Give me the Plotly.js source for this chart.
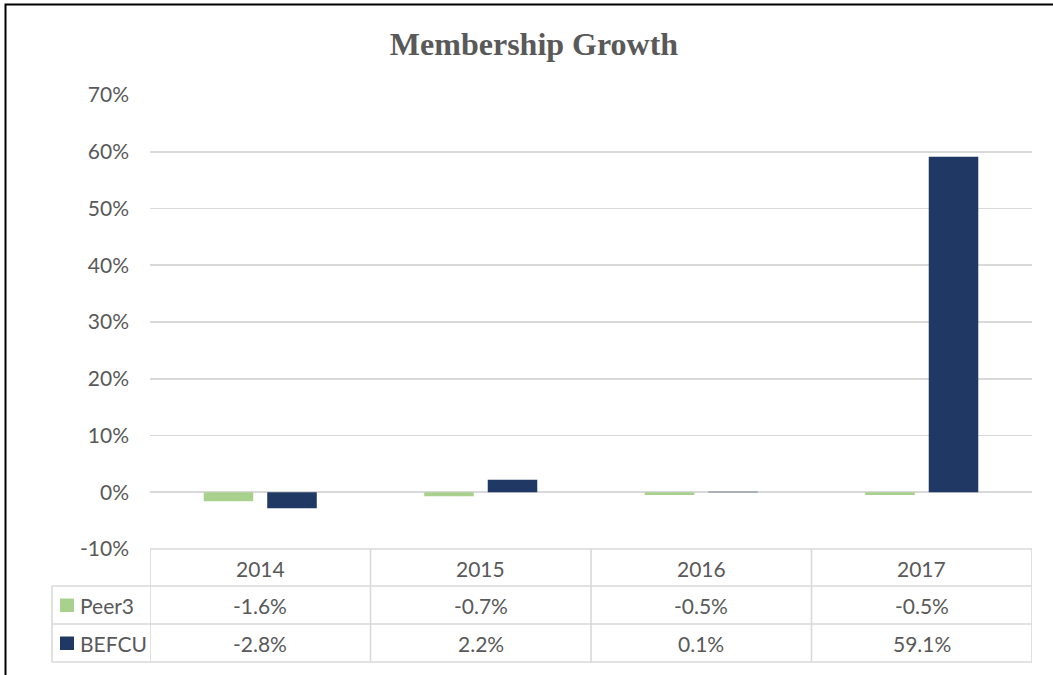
<!DOCTYPE html>
<html>
<head>
<meta charset="utf-8">
<script src="https://cdn.plot.ly/plotly-3.0.1.min.js"></script>
<style>
  html, body { margin: 0; padding: 0; background: #ffffff; }
  #chart { width: 1053px; height: 675px; }
</style>
</head>
<body>
<div id="chart"></div>
<script>
// ---- data ----
const years = ['2014', '2015', '2016', '2017'];
const seriesNames = ['Peer3', 'BEFCU'];
const peer3 = [-1.6, -0.7, -0.5, -0.5];
const befcu = [-2.8, 2.2, 0.1, 59.1];
const yTickVals = [-10, 0, 10, 20, 30, 40, 50, 60, 70];
const yTickText = ['-10%', '0%', '10%', '20%', '30%', '40%', '50%', '60%', '70%'];
const colors = ['#A9D18E', '#1F3864'];

// ---- style / geometry (pixels of the 1053x675 page) ----
const W = 1053, H = 675;
const plotL = 150, plotR = 1032, plotT = 95, plotB = 549;
const pw = plotR - plotL, ph = plotB - plotT;
const px2x = p => (p - plotL) / pw;          // pixel x -> paper x
const px2y = p => (plotB - p) / ph;          // pixel y -> paper y
const textColor = '#595959';
const gridColor = '#D9D9D9';
const baseFont = 'Lato, "Open Sans", sans-serif';

const rowLines = [586, 624, 662];
const rowCenters = [568, 605, 643];
const labelLeft = 52;

const traces = [peer3, befcu].map((vals, i) => ({
  type: 'bar',
  name: seriesNames[i],
  x: years,
  y: vals,
  marker: { color: colors[i], line: { width: 0 } },
  hoverinfo: 'skip'
}));

const shapes = [];
const annotations = [];
const tableLine = { color: gridColor, width: 1.6 };

// header top line
shapes.push({ type: 'line', xref: 'paper', yref: 'paper', x0: 0, x1: 1, y0: 0, y1: 0, line: tableLine });
// row lines
rowLines.forEach(p => shapes.push({ type: 'line', xref: 'paper', yref: 'paper',
  x0: px2x(labelLeft), x1: 1, y0: px2y(p), y1: px2y(p), line: tableLine }));
// column lines
for (let i = 0; i <= years.length; i++) {
  shapes.push({ type: 'line', xref: 'x', yref: 'paper', x0: i - 0.5, x1: i - 0.5,
    y0: 0, y1: px2y(rowLines[2]), line: tableLine });
}
// label column left line
shapes.push({ type: 'line', xref: 'paper', yref: 'paper', x0: px2x(labelLeft), x1: px2x(labelLeft),
  y0: px2y(rowLines[0]), y1: px2y(rowLines[2]), line: tableLine });

const cellFont = { family: baseFont, size: 21, color: textColor };

// header labels (category index on the x axis)
years.forEach((yr, i) => annotations.push({ xref: 'x', yref: 'paper', x: i, y: px2y(rowCenters[0]),
  text: yr, showarrow: false, xanchor: 'center', yanchor: 'middle', font: cellFont }));

// series rows
[peer3, befcu].forEach((vals, r) => {
  const cy = rowCenters[r + 1];
  // legend swatch
  shapes.push({ type: 'rect', xref: 'paper', yref: 'paper',
    x0: px2x(60), x1: px2x(74), y0: px2y(cy - 6.5), y1: px2y(cy + 7),
    fillcolor: colors[r], line: { width: 0 } });
  annotations.push({ xref: 'paper', yref: 'paper', x: px2x(78), y: px2y(cy),
    text: seriesNames[r], showarrow: false, xanchor: 'left', yanchor: 'middle', font: cellFont });
  vals.forEach((v, i) => annotations.push({ xref: 'x', yref: 'paper', x: i, y: px2y(cy),
    text: v.toFixed(1) + '%', showarrow: false, xanchor: 'center', yanchor: 'middle', font: cellFont }));
});

// outer chart border (top & left visible)
shapes.push({ type: 'rect', xref: 'paper', yref: 'paper',
  x0: px2x(5.5), x1: px2x(W + 40), y0: px2y(H + 40), y1: px2y(4.5),
  line: { color: '#000000', width: 2 }, fillcolor: 'rgba(0,0,0,0)' });

const layout = {
  width: W, height: H,
  margin: { l: plotL, r: W - plotR, t: plotT, b: H - plotB, pad: 0 },
  paper_bgcolor: '#ffffff', plot_bgcolor: '#ffffff',
  showlegend: false,
  barmode: 'group', bargap: 0.424, bargroupgap: 0.22,
  title: { text: '<b>Membership Growth</b>', x: 534 / W, xanchor: 'center', xref: 'container',
    y: 1 - 44 / H, yanchor: 'middle', yref: 'container',
    font: { family: '"Liberation Serif", "Times New Roman", serif', size: 32, color: textColor } },
  xaxis: { type: 'category', range: [-0.5, 3.5], showticklabels: false, showgrid: false,
    zeroline: false, showline: false, ticks: '', fixedrange: true },
  yaxis: { range: [-10, 70], tickmode: 'array', tickvals: yTickVals, ticktext: yTickText, showgrid: true,
    gridcolor: gridColor, gridwidth: 1.6, zeroline: false, showline: false, ticks: '',
    ticklabelstandoff: 20, tickfont: cellFont, fixedrange: true },
  shapes: shapes,
  annotations: annotations
};

Plotly.newPlot('chart', traces, layout, { displayModeBar: false, staticPlot: true });
</script>
</body>
</html>
